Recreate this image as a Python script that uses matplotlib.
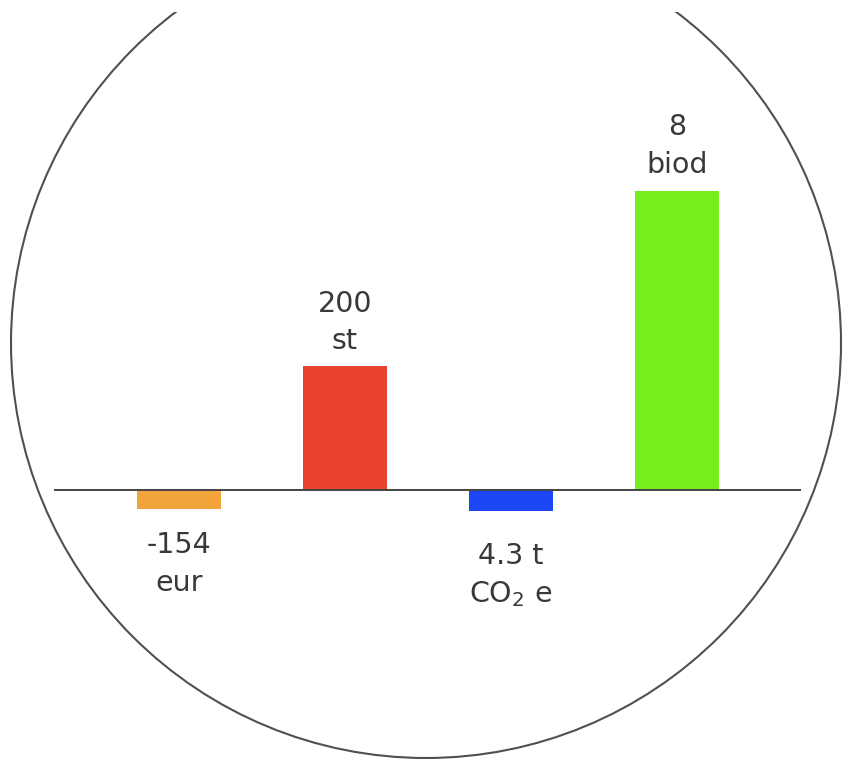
import matplotlib.pyplot as plt
from matplotlib.patches import Ellipse, Rectangle

plt.rcParams['font.family'] = ['DejaVu Sans']
plt.rcParams['mathtext.fontset'] = 'dejavusans'

# bar heights relative to the tallest bar, plus the label shown for each
categories = ['eur', 'st', 'co2', 'biod']
heights = [-0.064, 0.415, -0.07, 1.0]
labels = ['-154\neur', '200\nst', '4.3 t\nCO$_2$ e', '8\nbiod']
colors = ['#F2A43A', '#E9432F', '#1C46F6', '#76EE1B']
# label offsets from the bar end (points)
offsets = [16, 8, 22, 9]

fig = plt.figure(figsize=(8.49, 7.6), dpi=100)
ax = fig.add_axes([0, 0, 1, 1])

xpos = range(len(categories))
ax.bar(xpos, heights, width=0.506, color=colors, zorder=2)

# baseline
ax.axhline(0, xmin=0.065, xmax=0.942, color='#444444', lw=1.4, zorder=3)

for x, h, lab, off in zip(xpos, heights, labels, offsets):
    if h >= 0:
        ax.annotate(lab, (x, h), xytext=(0, off), textcoords='offset points',
                    ha='center', va='bottom', fontsize=20.5, color='#383838',
                    linespacing=1.42)
    else:
        ax.annotate(lab, (x, h), xytext=(0, -off), textcoords='offset points',
                    ha='center', va='top', fontsize=20.5, color='#383838',
                    linespacing=1.42)

# big circle around the chart, cut off near the top edge
circ = Ellipse((426 / 849, 417 / 760), 2 * 415 / 849, 2 * 415 / 760,
               transform=ax.transAxes, fill=False, edgecolor='#505050', lw=1.5)
ax.add_patch(circ)
clip = Rectangle((0, 0), 1, 748 / 760, transform=ax.transAxes)
circ.set_clip_path(clip)

ax.set_xlim(-1.078, 4.036)
ax.set_ylim(-0.903, 1.639)
ax.axis('off')

fig.savefig('out.png', dpi=100)
